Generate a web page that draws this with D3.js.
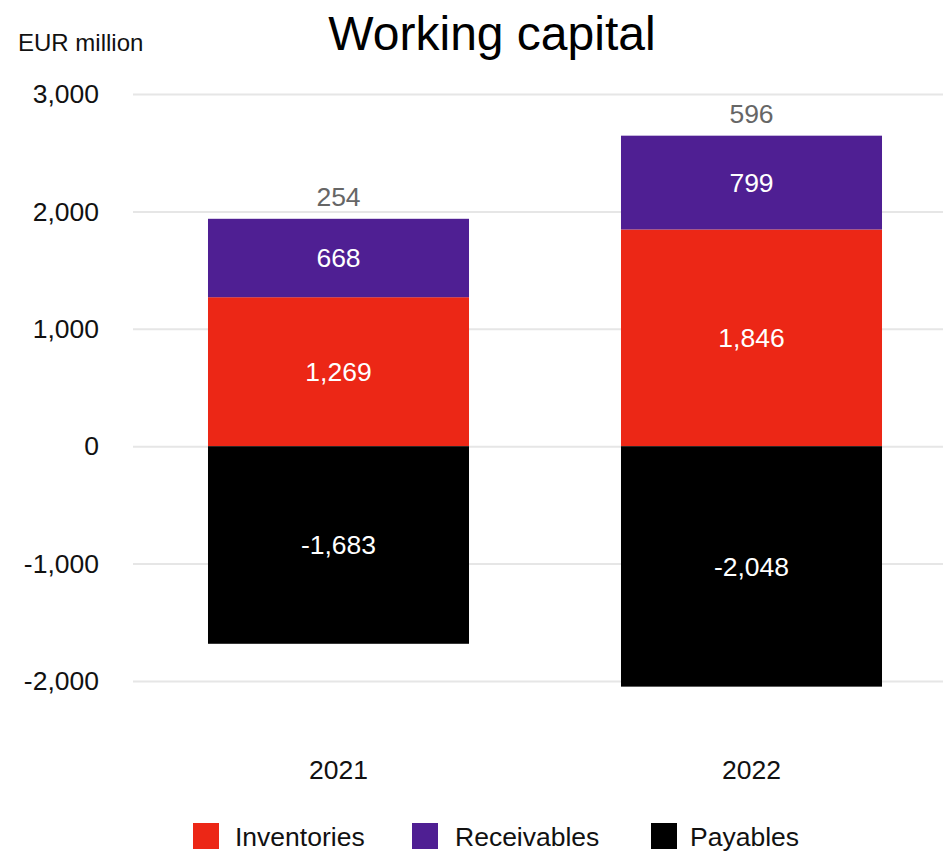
<!DOCTYPE html>
<html>
<head>
<meta charset="utf-8" />
<title>Working capital</title>
<script src="https://d3js.org/d3.v7.min.js"></script>
<style>
body { margin: 0; background: #fff; }
svg { display: block; font-family: "Liberation Sans", Arial, sans-serif; }
.grid line { stroke: #e6e6e6; stroke-width: 2; }
.grid path { display: none; }
</style>
</head>
<body>
<script>
let years = ['2021', '2022'];
let inventories = [1269, 1846];
let receivables = [668, 799];
let payables = [-1683, -2048];
let netLabels = [254, 596];
let yTicks = [-2000, -1000, 0, 1000, 2000, 3000];
let seriesNames = ['Inventories', 'Receivables', 'Payables'];
let colors = ['#ec2716', '#4f1f93', '#000000'];

let width = 943, height = 852;
let fs = 26.5;
let svg = d3.select('body').append('svg').attr('width', width).attr('height', height);

let x = d3.scaleBand().domain(years).range([132, 958]).paddingInner(0.368).paddingOuter(0.184);
let y = d3.scaleLinear().domain([-2000, 3000]).range([681, 94]);
let fmt = d => d3.format(',')(d).replace('\u2212', '-');

// gridlines
svg.append('g').attr('class', 'grid')
    .call(d3.axisLeft(y).tickValues(yTicks).tickSize(-(943 - 133)).tickFormat(''))
    .attr('transform', 'translate(133,0)');

// tick labels
svg.append('g').selectAll('text').data(yTicks).enter().append('text')
    .attr('x', 99).attr('y', d => y(d)).attr('dy', '0.35em')
    .attr('text-anchor', 'end').attr('font-size', fs).attr('fill', '#111')
    .text(d => fmt(d));

svg.append('text').attr('x', 18).attr('y', 51).attr('font-size', 24).attr('fill', '#111').text('EUR million');
svg.append('text').attr('x', 492).attr('y', 50).attr('text-anchor', 'middle').attr('font-size', 48).attr('fill', '#000').text('Working capital');

// stacked segments
let segments = [];
years.forEach((yr, i) => {
    segments.push({ yr, s: 0, y0: 0, y1: inventories[i], v: inventories[i] });
    segments.push({ yr, s: 1, y0: inventories[i], y1: inventories[i] + receivables[i], v: receivables[i] });
    segments.push({ yr, s: 2, y0: 0, y1: payables[i], v: payables[i] });
});

svg.append('g').selectAll('rect').data(segments).enter().append('rect')
    .attr('x', d => x(d.yr)).attr('width', x.bandwidth())
    .attr('y', d => y(Math.max(d.y0, d.y1)))
    .attr('height', d => Math.abs(y(d.y0) - y(d.y1)))
    .attr('fill', d => colors[d.s]);

svg.append('g').selectAll('text').data(segments).enter().append('text')
    .attr('x', d => x(d.yr) + x.bandwidth() / 2)
    .attr('y', d => y((d.y0 + d.y1) / 2)).attr('dy', '0.35em')
    .attr('text-anchor', 'middle').attr('font-size', fs).attr('fill', '#fff')
    .text(d => fmt(d.v));

// net labels above bars
svg.append('g').selectAll('text').data(years).enter().append('text')
    .attr('x', d => x(d) + x.bandwidth() / 2)
    .attr('y', (d, i) => y(inventories[i] + receivables[i]) - 22).attr('dy', '0.35em')
    .attr('text-anchor', 'middle').attr('font-size', fs).attr('fill', '#666')
    .text((d, i) => fmt(netLabels[i]));

// year labels
svg.append('g').selectAll('text').data(years).enter().append('text')
    .attr('x', d => x(d) + x.bandwidth() / 2).attr('y', 770).attr('dy', '0.35em')
    .attr('text-anchor', 'middle').attr('font-size', fs).attr('fill', '#111')
    .text(d => d);

// legend
let legendX = [193, 412, 651];
let legend = svg.append('g').selectAll('g').data(seriesNames).enter().append('g')
    .attr('transform', (d, i) => 'translate(' + legendX[i] + ',823)');
legend.append('rect').attr('width', 26).attr('height', 26).attr('fill', (d, i) => colors[i]);
legend.append('text').attr('x', (d, i) => [42, 43, 39][i]).attr('y', 14).attr('dy', '0.35em')
    .attr('font-size', fs).attr('fill', '#111').text(d => d);
</script>
</body>
</html>
